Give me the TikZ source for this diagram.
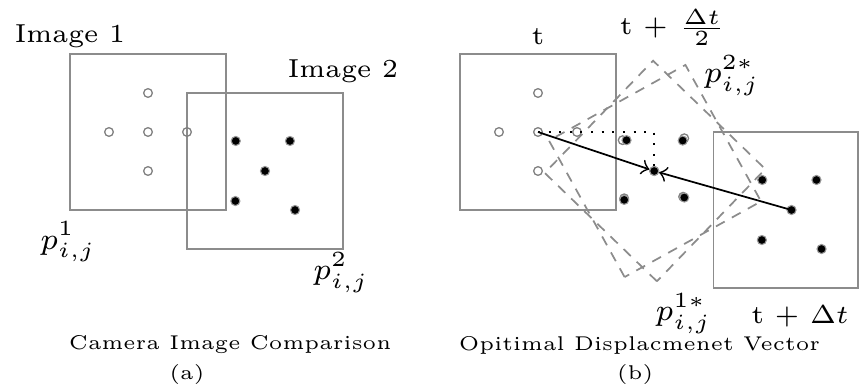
\documentclass[tikz,border=0pt]{standalone}
\usepackage{amsmath}
\usepackage{tikz}

\begin{document}
\begin{tikzpicture}[x=9pt, y=9pt,
    box/.style={draw=black!45, line width=0.45pt},
    dashbox/.style={draw=black!45, line width=0.4pt, dash pattern=on 2.3pt off 1.9pt},
    hollow/.style={circle, draw=black!50, line width=0.3pt, inner sep=0pt, minimum size=2pt},
    dot/.style={circle, fill=black, draw=black!40, line width=0.25pt, inner sep=0pt, minimum size=2.1pt},
    lab/.style={font=\fontsize{6}{7}\selectfont, inner sep=0pt},
    plab/.style={font=\fontsize{7}{8}\selectfont, inner sep=0pt},
    captext/.style={font=\fontsize{4.6}{5.5}\selectfont, inner sep=0pt}]
    \useasboundingbox (-1.795,-4.538) rectangle (20.256,5.385);

    % (a) 两幅图像
    \draw[box] (0,0) rectangle (4,4);
    \draw[box] (3,-1) rectangle (7,3);
    \node[lab] (img1) at (0,4.45) {Image 1};
    \node[lab] (img2) at (7,3.55) {Image 2};
    \node[plab] (p1) at (-0.05,-0.82) {$p^{1}_{i,j}$};
    \node[plab] (p2) at (6.95,-1.6) {$p^{2}_{i,j}$};

    % 图像1的点 (空心)
    \foreach \x/\y/\n in {2/3/a, 1/2/b, 2/2/c, 3/2/d, 2/1/e}
        \node[hollow] (h\n) at (\x,\y) {};
    % 图像2的点 (实心)
    \foreach \x/\y/\n in {4.25/1.77/a, 5.64/1.77/b, 5/1/c, 4.24/0.23/d, 5.77/0/e}
        \node[dot] (g\n) at (\x,\y) {};

    % (b) t 和 t+dt
    \draw[box] (10,0) rectangle (14,4);
    \draw[box] (16.5,-2) rectangle (20.2,2);
    % 中间时刻的变换图像 (虚线)
    \draw[dashbox, rotate around={46:(15,1)}] (13,-1) rectangle (17,3);
    \draw[dashbox, rotate around={29:(15,1)}] (13,-1) rectangle (17,3);

    \node[lab] (lt) at (12,4.45) {t};
    \node[lab] (lhalf) at (15.45,4.67) {t $+$ $\frac{\Delta t}{2}$};
    \node[lab] (ldt) at (18.72,-2.72) {t $+$ $\Delta t$};
    \node[plab] (p2s) at (16.97,3.44) {$p^{2*}_{i,j}$};
    \node[plab] (p1s) at (15.73,-2.65) {$p^{1*}_{i,j}$};

    \foreach \x/\y/\n in {2/3/a, 1/2/b, 2/2/c, 3/2/d, 2/1/e}
        \node[hollow] (t\n) at (\x+10,\y) {};
    \foreach \x/\y/\n in {17.75/0.77/a, 19.14/0.77/b, 18.5/0/c, 17.74/-0.77/d, 19.27/-1/e}
        \node[dot] (q\n) at (\x,\y) {};

    % 中间点: 空心与实心重叠
    \foreach \x/\y/\n in {14.17/1.79/a, 15.75/1.84/b, 14.98/1/c, 14.21/0.3/d, 15.72/0.34/e}
        \node[hollow] (r\n) at (\x,\y) {};
    \foreach \x/\y/\n in {14.27/1.79/a, 15.71/1.78/b, 14.98/1/c, 14.21/0.26/d, 15.75/0.32/e}
        \node[dot] (m\n) at (\x,\y) {};

    % 位移向量
    \draw[dotted, line width=0.45pt] (tc.center) -| (mc);
    \draw[->] (tc.center) -- (mc);
    \draw[->] (qc.center) -- (mc);

    % 标题
    \node[captext, anchor=west] (capa) at (-0.05,-3.46) {Camera Image Comparison};
    \node[captext] (suba) at (3,-4.23) {(a)};
    \node[captext, anchor=west] (capb) at (9.95,-3.46) {Opitimal Displacmenet Vector};
    \node[captext] (subb) at (14.49,-4.23) {(b)};
\end{tikzpicture}
\end{document}
